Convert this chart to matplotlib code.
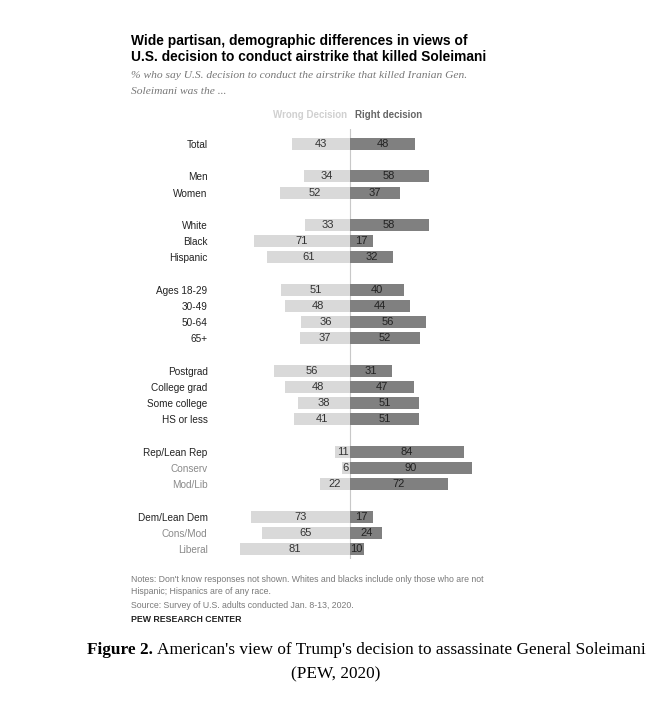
import matplotlib
matplotlib.use("Agg")
import matplotlib.pyplot as plt
import numpy as np

# rows (top to bottom); None marks an empty spacer row
labels = ["Total", None,
          "Men", "Women", None,
          "White", "Black", "Hispanic", None,
          "Ages 18-29", "30-49", "50-64", "65+", None,
          "Postgrad", "College grad", "Some college", "HS or less", None,
          "Rep/Lean Rep", "Conserv", "Mod/Lib", None,
          "Dem/Lean Dem", "Cons/Mod", "Liberal"]
wrong = [43, 34, 52, 33, 71, 61, 51, 48, 36, 37, 56, 48, 38, 41, 11, 6, 22, 73, 65, 81]
right = [48, 58, 37, 58, 17, 32, 40, 44, 56, 52, 31, 47, 51, 51, 84, 90, 72, 17, 24, 10]
sub_rows = ["Conserv", "Mod/Lib", "Cons/Mod", "Liberal"]

W, H = 670, 708
fig = plt.figure(figsize=(W / 100, H / 100), dpi=100)

def fx(px):
    return px / W

def fy(py):
    return 1 - py / H

ypos = np.array([i for i, l in enumerate(labels) if l is not None])
names = [l for l in labels if l is not None]

ax = fig.add_axes([0.3201, 0.2109, 0.4045, 0.6063])
ax.set_xlim(-100, 100)
ax.set_ylim(25.6, -0.9)

light = "#d9d9d9"
dark = "#808080"
ax.barh(ypos, [-w for w in wrong], height=0.74, color=light)
ax.barh(ypos, right, height=0.74, color=dark)
ax.axvline(0, color="#c8c8c8", lw=0.8, zorder=0)

for y, w, r in zip(ypos, wrong, right):
    ax.text(-w / 2, y, str(w), ha="center", va="center", fontsize=8,
            color="#333333", family="Liberation Sans")
    ax.text(r / 2, y, str(r), ha="center", va="center", fontsize=8,
            color="#222222", family="Liberation Sans")

ax.set_yticks(ypos)
ax.set_yticklabels(names, fontsize=7.2, family="Liberation Sans")
for t in ax.get_yticklabels():
    t.set_color("#8a8a8a" if t.get_text() in sub_rows else "#222222")
ax.tick_params(axis="y", length=0, pad=5)
ax.set_xticks([])
for s in ax.spines.values():
    s.set_visible(False)

# title block
fig.text(fx(131), fy(41), "Wide partisan, demographic differences in views of",
         fontsize=9.9, fontweight="bold", family="Liberation Sans", va="center")
fig.text(fx(131), fy(57), "U.S. decision to conduct airstrike that killed Soleimani",
         fontsize=9.9, fontweight="bold", family="Liberation Sans", va="center")
fig.text(fx(131), fy(76), "% who say U.S. decision to conduct the airstrike that killed Iranian Gen.",
         fontsize=8.25, style="italic", family="Liberation Serif", color="#777777", va="center")
fig.text(fx(131), fy(91), "Soleimani was the ...",
         fontsize=8.25, style="italic", family="Liberation Serif", color="#777777", va="center")

# legend
fig.text(fx(347), fy(115), "Wrong Decision", fontsize=7, fontweight="bold",
         family="Liberation Sans", color="#d0d0d0", ha="right", va="center")
fig.text(fx(355), fy(115), "Right decision", fontsize=7, fontweight="bold",
         family="Liberation Sans", color="#666666", ha="left", va="center")

# notes
note_c = "#7a7a7a"
fig.text(fx(131), fy(579), "Notes: Don't know responses not shown. Whites and blacks include only those who are not",
         fontsize=6.3, family="Liberation Sans", color=note_c, va="center")
fig.text(fx(131), fy(592), "Hispanic; Hispanics are of any race.",
         fontsize=6.3, family="Liberation Sans", color=note_c, va="center")
fig.text(fx(131), fy(605), "Source: Survey of U.S. adults conducted Jan. 8-13, 2020.",
         fontsize=6.3, family="Liberation Sans", color=note_c, va="center")
fig.text(fx(131), fy(620), "PEW RESEARCH CENTER",
         fontsize=6.3, fontweight="bold", family="Liberation Sans", color="#222222", va="center")

# caption: bold "Figure 2." followed by regular text
cap_fs = 12.4
renderer = fig.canvas.get_renderer()
t1 = fig.text(fx(87), fy(650), "Figure 2.", fontsize=cap_fs, fontweight="bold",
              family="Liberation Serif", ha="left", va="center")
bb = t1.get_window_extent(renderer=renderer)
fig.text(bb.x1 / W + 4 / W, fy(650),
         "American's view of Trump's decision to assassinate General Soleimani",
         fontsize=cap_fs, family="Liberation Serif", ha="left", va="center")
fig.text(fx(336), fy(674), "(PEW, 2020)", fontsize=cap_fs,
         family="Liberation Serif", ha="center", va="center")

fig.savefig("out.png", dpi=100)
